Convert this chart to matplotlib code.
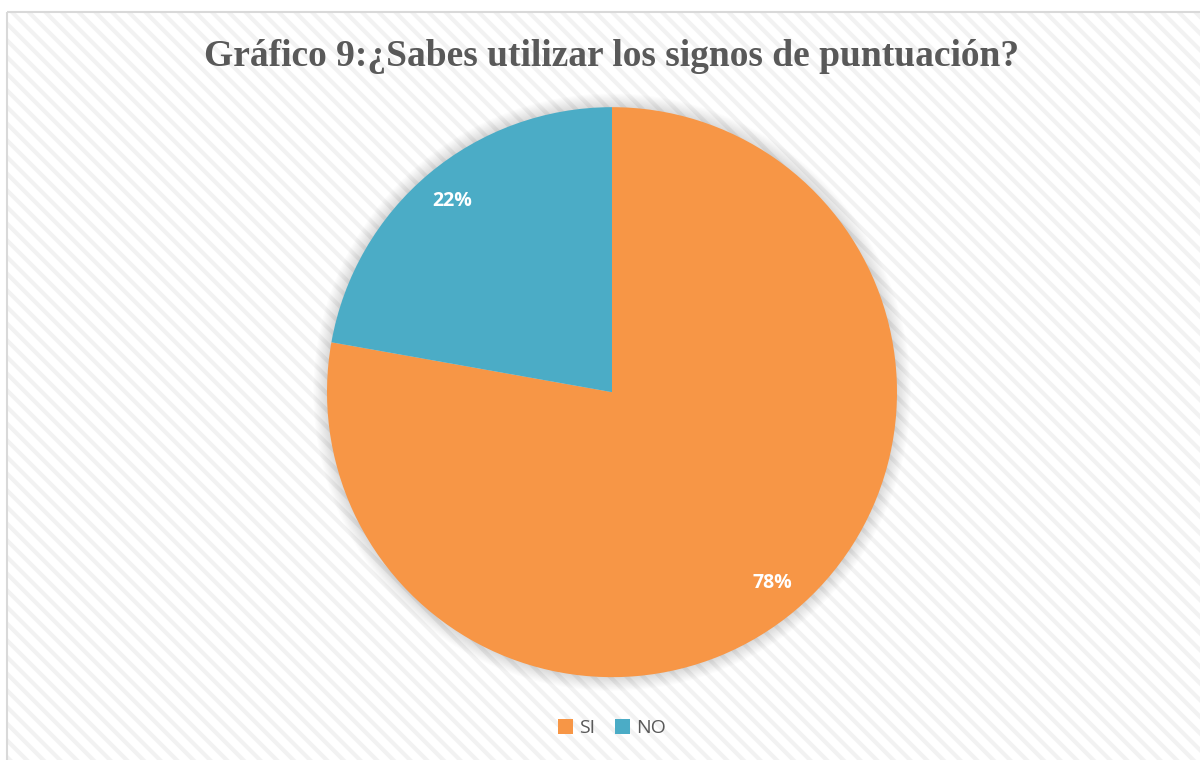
import matplotlib.pyplot as plt
from matplotlib.patches import Rectangle, Circle

labels = ['SI', 'NO']
values = [77.8, 22.2]
colors = ['#F79646', '#4BACC6']
title = 'Gráfico 9:¿Sabes utilizar los signos de puntuación?'

plt.rcParams['hatch.linewidth'] = 3.0

fig = plt.figure(figsize=(12, 7.6), dpi=100)

# background layer: hatched chart area with light border
bgax = fig.add_axes([0, 0, 1, 1], zorder=-1)
bgax.set_xlim(0, 1200)
bgax.set_ylim(760, 0)
bgax.axis('off')
bgax.add_patch(Rectangle((7, 12), 1300, 800, facecolor='white',
                         edgecolor='#f2f2f2', hatch='\\\\', linewidth=0))
bgax.add_patch(Rectangle((7, 12), 1300, 800, facecolor='none',
                         edgecolor='#d9d9d9', linewidth=1.5))

fig.text(0.51, 0.925, title, ha='center', va='center', fontsize=27,
         fontweight='bold', family='Liberation Serif', color='#595959')

ax = fig.add_axes([0.2725, 0.109, 0.475, 0.75])

# soft shadow behind the pie
for i in range(12):
    ax.add_patch(Circle((0, 0), 1.0 + 0.004 * (12 - i), color='black',
                        alpha=0.012, lw=0, zorder=0, clip_on=False))

wedges, texts, autotexts = ax.pie(values, colors=colors, startangle=90,
                                  counterclock=False, autopct='%1.0f%%',
                                  pctdistance=0.875, radius=1,
                                  wedgeprops=dict(linewidth=0))
for t in autotexts:
    t.set_color('white')
    t.set_fontsize(14)
    t.set_fontweight('bold')
    t.set_family('Open Sans')

ax.set_xlim(-1, 1)
ax.set_ylim(-1, 1)
ax.axis('off')

fig.legend(wedges, labels, loc='center', bbox_to_anchor=(0.51, 0.042),
           ncol=2, frameon=False, handlelength=0.8, handleheight=0.8,
           handletextpad=0.3, columnspacing=1.0,
           prop={'family': 'Open Sans', 'size': 14}, labelcolor='#595959')

fig.savefig('out.png', dpi=100)
